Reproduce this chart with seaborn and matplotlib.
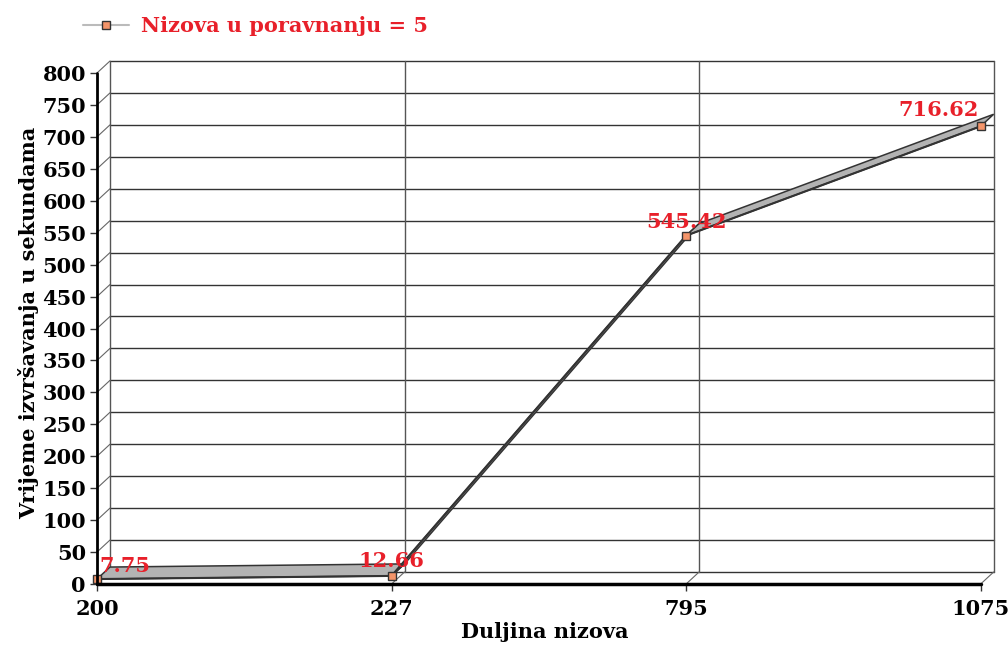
import numpy as np
import pandas as pd
import seaborn as sns
import matplotlib.pyplot as plt
from matplotlib.lines import Line2D

# Podaci
DULJINE = ['200', '227', '795', '1075']
VRIJEME = [7.75, 12.66, 545.42, 716.62]
Y_TICKS = list(range(0, 801, 50))
SERIJA = 'Nizova u poravnanju = 5'

# pseudo-3D dubina (u jedinicama podataka)
DX = 0.044
DY = 18.8

sns.set_theme(style='white')
plt.rcParams['font.family'] = ['DejaVu Serif']
plt.rcParams['font.weight'] = 'bold'
plt.rcParams['text.color'] = 'black'
plt.rcParams['axes.labelcolor'] = 'black'
plt.rcParams['xtick.labelcolor'] = 'black'
plt.rcParams['ytick.labelcolor'] = 'black'

df = pd.DataFrame({'idx': np.arange(len(DULJINE)), 'vrijeme': VRIJEME})

fig = plt.figure(figsize=(10.08, 6.48), dpi=100)
ax = fig.add_axes([97 / 1008, 64 / 648, 896 / 1008, 523 / 648])
ax.set_xlim(0, 3 + DX * 0.95)
ax.set_ylim(0, 800 + DY)

grid_c = '#333333'
side_c = '#666666'
n = len(DULJINE)

# zadnji zid: horizontalne linije i dijagonale lijevo
for v in Y_TICKS:
    ax.plot([DX, n - 1 + DX], [v + DY, v + DY], color=grid_c, lw=1, zorder=1, clip_on=False)
    ax.plot([0, DX], [v, v + DY], color=side_c, lw=0.8, zorder=1, clip_on=False)
# vertikalne linije i dijagonale na dnu
for i in range(n):
    ax.plot([i + DX, i + DX], [DY, 800 + DY], color='#555555', lw=1, zorder=1, clip_on=False)
    ax.plot([i, i + DX], [0, DY], color=side_c, lw=0.8, zorder=1, clip_on=False)

# vrpca
for i in range(n - 1):
    xs = [i, i + 1, i + 1 + DX, i + DX]
    ys = [VRIJEME[i], VRIJEME[i + 1], VRIJEME[i + 1] + DY, VRIJEME[i] + DY]
    ax.fill(xs, ys, facecolor='#b3b3b3', edgecolor='#333333', lw=1.1, zorder=3, clip_on=False)

sns.lineplot(data=df, x='idx', y='vrijeme', ax=ax, color='#333333', lw=1.5,
             marker='s', markersize=6, markerfacecolor='#f4956a',
             markeredgecolor='#333333', markeredgewidth=1, zorder=4, clip_on=False)

# prednje osi
ax.plot([0, 0], [0, 800], color='black', lw=2, zorder=5, clip_on=False)
ax.plot([0, n - 1], [0, 0], color='black', lw=2.5, zorder=5, clip_on=False)

for s in ax.spines.values():
    s.set_visible(False)
ax.set_yticks(Y_TICKS)
ax.set_xticks(range(n))
ax.set_xticklabels(DULJINE)
ax.tick_params(axis='both', which='both', direction='out', length=5, width=1,
               color='#333333', labelsize=15, pad=3)
ax.tick_params(axis='x', pad=6)
ax.tick_params(left=True, bottom=True)
for lab in ax.get_xticklabels() + ax.get_yticklabels():
    lab.set_fontweight('bold')

# vrijednosti
pomaci = [(28, 13), (0, 15), (0, 14), (-42, 16)]
for i, v in enumerate(VRIJEME):
    ax.annotate(f'{v:.2f}', xy=(i, v), xytext=pomaci[i], textcoords='offset pixels',
                ha='center', va='center', color='#e8202a', fontsize=15,
                fontweight='bold', zorder=6)

ax.set_xlabel('Duljina nizova', fontsize=15, fontweight='bold')
ax.xaxis.set_label_coords(0.5, -38 / 523)
ax.set_ylabel('Vrijeme izvršavanja u sekundama', fontsize=15, fontweight='bold')
ax.yaxis.set_label_coords(-58 / 896, 0.5)

handle = Line2D([], [], color='#bbbbbb', lw=1.5, marker='s', markersize=6,
                markerfacecolor='#f4956a', markeredgecolor='#333333')
leg = fig.legend([handle], [SERIJA], loc='center left', bbox_to_anchor=(64 / 1008, 1 - 26 / 648),
                 frameon=False, fontsize=15, handlelength=2.2, handletextpad=0.6)
for t in leg.get_texts():
    t.set_color('#e8202a')
    t.set_fontweight('bold')

fig.savefig('out.png', dpi=100)
